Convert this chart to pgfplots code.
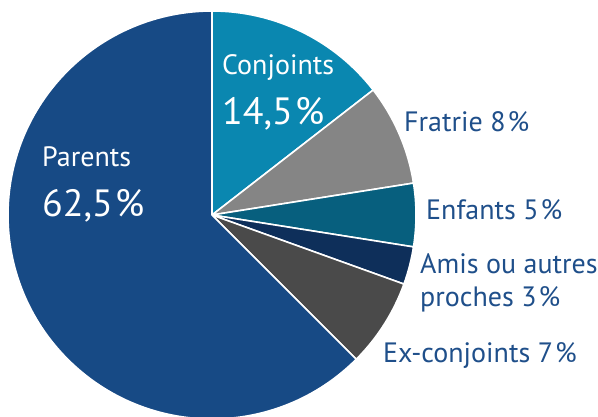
\documentclass[border=0pt]{standalone}
\usepackage{pgfplots}
\usepackage{pgfplotstable}
\pgfplotsset{compat=1.18}
\usepackage{fontspec}
\setmainfont{PT Sans}
\definecolor{cPar}{HTML}{174A85}
\definecolor{cConj}{HTML}{0A87B0}
\definecolor{cFrat}{HTML}{858585}
\definecolor{cEnf}{HTML}{075F7E}
\definecolor{cAmis}{HTML}{0E2F5A}
\definecolor{cEx}{HTML}{4A4A4A}
\definecolor{cLab}{HTML}{1F4F8A}
\pgfplotstableread{
label value col
Conjoints 14.5 cConj
Fratrie 8 cFrat
Enfants 5 cEnf
Amis 3 cAmis
Exconjoints 7 cEx
Parents 62.5 cPar
}\pietable
\newcommand{\pc}{\kern2pt\%}
\begin{document}
\begin{tikzpicture}
\begin{axis}[x=1pt,y=1pt,xmin=0,xmax=598,ymin=0,ymax=417,hide axis,clip=false,
  anchor=origin, at={(0,0)}]
\coordinate (bbSW) at (axis cs:0,0);
\coordinate (bbNE) at (axis cs:598,417);
\def\angstart{90}
\pgfplotsforeachungrouped \i in {0,...,5}{%
  \pgfplotstablegetelem{\i}{value}\of\pietable \let\v\pgfplotsretval
  \pgfplotstablegetelem{\i}{col}\of\pietable \let\c\pgfplotsretval
  \pgfmathsetmacro\angend{\angstart-3.6*\v}%
  \edef\tmp{\noexpand\fill[\c, draw=white, line width=1.6pt, line join=round] (axis cs:212,202) -- ++(\angstart:204pt) arc[start angle=\angstart, end angle=\angend, radius=204pt] -- cycle;}%
  \tmp
  \global\let\angstart\angend
}
\tikzset{lab/.style={anchor=base west, inner sep=0pt, text=cLab, font=\fontsize{28}{30}\selectfont},
  inl/.style={anchor=base west, inner sep=0pt, text=white, font=\fontsize{28}{30}\selectfont},
  big/.style={anchor=base west, inner sep=0pt, text=white, font=\fontsize{38}{40}\selectfont}}
\node[inl] at (axis cs:222,342) {Conjoints};
\node[big] at (axis cs:222,292) {14,5\pc};
\node[inl] at (axis cs:42,250) {Parents};
\node[big] at (axis cs:42,200) {62,5\pc};
\node[lab] at (axis cs:404,285) {Fratrie 8\pc};
\node[lab] at (axis cs:426,197) {Enfants 5\pc};
\node[lab] at (axis cs:420,143) {Amis ou autres};
\node[lab] at (axis cs:420,110) {proches 3\pc};
\node[lab] at (axis cs:383,54) {Ex-conjoints 7\pc};
\end{axis}
\pgfresetboundingbox
\useasboundingbox (bbSW) rectangle (bbNE);
\end{tikzpicture}
\end{document}
